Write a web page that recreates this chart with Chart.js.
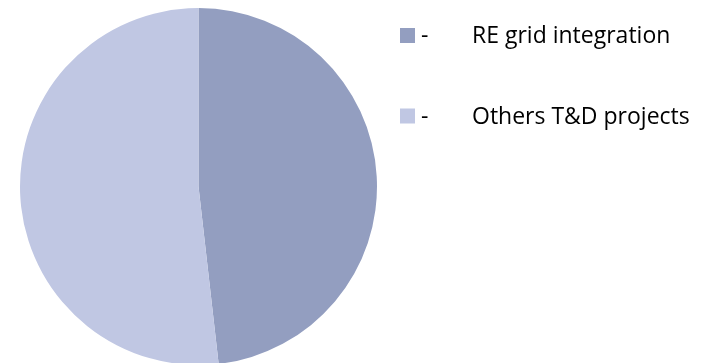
<!DOCTYPE html>
<html>
<head>
<meta charset="utf-8">
<script src="https://cdn.jsdelivr.net/npm/chart.js@4"></script>
<style>
  html, body { margin: 0; padding: 0; background: #fff; overflow: hidden; }
  #wrap { width: 709px; height: 363px; position: relative; }
</style>
</head>
<body>
<div id="wrap"><canvas id="pie-chart"></canvas></div>
<script>
const labels = ['RE grid integration', 'Others T&D projects'];
const shares = [48.2, 51.8];
const colors = ['#939EC0', '#C0C7E3'];

// legend: square, dash, label, like the original sheet
const sideLegend = {
  id: 'sideLegend',
  afterDraw(chart) {
    const ctx = chart.ctx;
    const bg = chart.data.datasets[0].backgroundColor;
    ctx.save();
    ctx.font = '23px "Open Sans", sans-serif';
    ctx.textBaseline = 'alphabetic';
    chart.data.labels.forEach(function (label, i) {
      const y = 28 + i * 80.5;
      ctx.fillStyle = bg[i];
      ctx.fillRect(400, y, 15, 15);
      ctx.fillStyle = '#000';
      ctx.fillText('-', 421, y + 15);
      ctx.fillText(label, 472, y + 15);
    });
    ctx.restore();
  }
};

const box = document.getElementById('pie-chart');
new Chart(box, {
  type: 'pie',
  data: {
    labels: labels,
    datasets: [{
      data: shares,
      backgroundColor: colors,
      borderWidth: 0,
      clip: false
    }]
  },
  options: {
    responsive: true,
    maintainAspectRatio: false,
    animation: false,
    radius: 178.5,
    layout: { padding: { left: 20, right: 332, top: 10, bottom: 0 } },
    plugins: {
      legend: { display: false },
      tooltip: { enabled: false }
    }
  },
  plugins: [sideLegend]
});
</script>
</body>
</html>
